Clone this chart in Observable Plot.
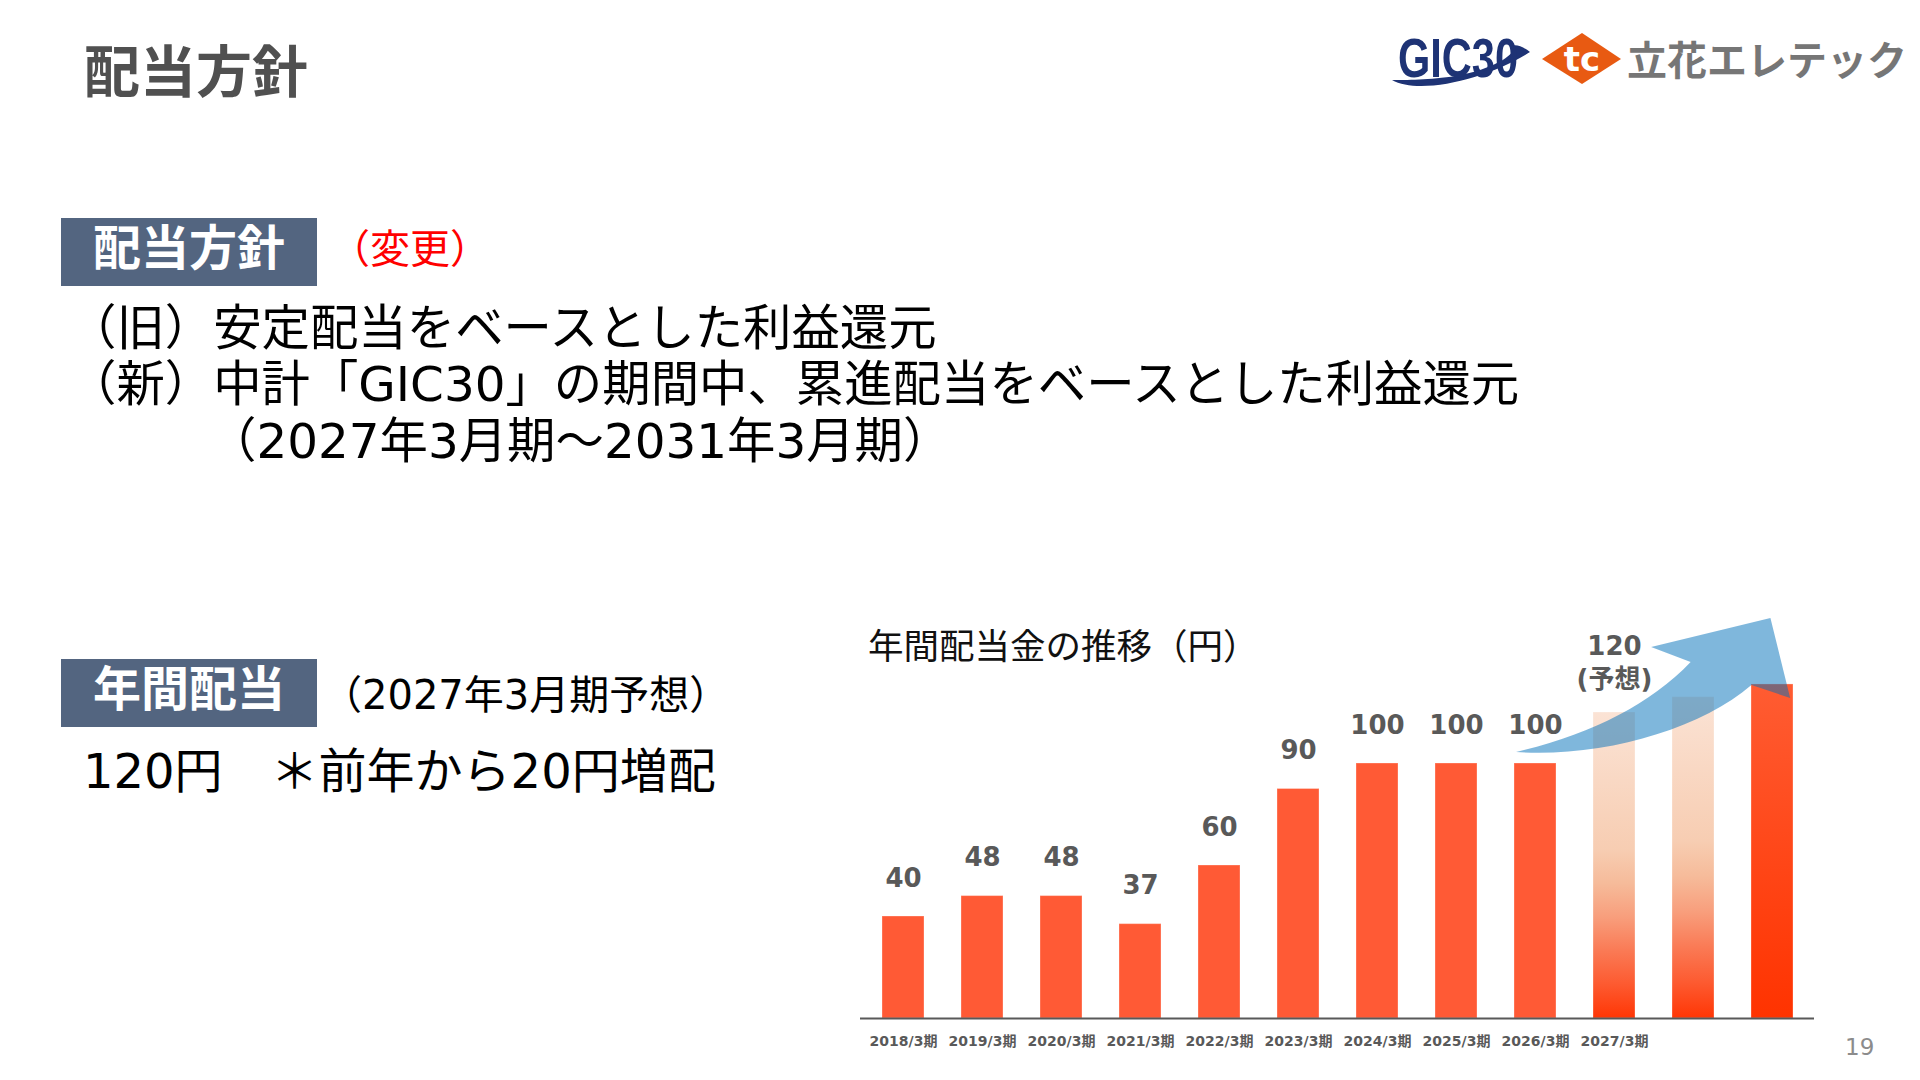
<!DOCTYPE html>
<html><head><meta charset="utf-8">
<script src="https://cdn.jsdelivr.net/npm/d3@7"></script>
<script src="https://cdn.jsdelivr.net/npm/@observablehq/plot@0.6"></script>
<style>
html,body{margin:0;padding:0;background:#fff;}
#page{position:relative;width:1920px;height:1080px;overflow:hidden;background:#fff;font-family:"Noto Sans CJK JP","Noto Sans",sans-serif;}
.t{position:absolute;white-space:nowrap;line-height:1;}
.body{font-family:"DejaVu Sans","Noto Sans CJK JP",sans-serif;}
.box{position:absolute;background:#536580;}
.boxlabel{position:absolute;color:#fff;font-weight:700;font-size:48px;line-height:1;text-align:center;white-space:nowrap;}
#chart{position:absolute;left:840px;top:600px;}
#chart g[aria-label^="x-axis"] text{font-weight:700;fill:#595959;}
</style></head>
<body><div id="page">
  <div class="t" style="left:84px;top:40px;font-size:56px;font-weight:700;color:#505050;">配当方針</div>

  <svg style="position:absolute;left:1380px;top:20px" width="540" height="90" viewBox="1380 20 540 90">
    <path d="M1392,80 C1420,96 1490,78 1530,52 C1524,47 1516,44 1512,46 C1520,50 1500,68 1456,76 C1430,80 1405,80 1392,80 Z" fill="#1e3375"/>
    <text x="1398" y="77" font-size="56" font-weight="700" font-family="Liberation Sans, Arial, sans-serif" fill="#1e3375" textLength="120" lengthAdjust="spacingAndGlyphs">GIC30</text>
    <polygon points="1542,59 1582,33 1621,59 1582,84" fill="#e85a12"/>
    <text x="1582" y="71" font-size="34" font-weight="700" font-family="DejaVu Sans, sans-serif" fill="#fff" text-anchor="middle">tc</text>
    <text x="1627" y="75" font-size="40" font-weight="700" font-family="Noto Sans CJK JP, sans-serif" fill="#767676">立花エレテック</text>
  </svg>

  <div class="box" style="left:61px;top:218px;width:256px;height:68px;"></div>
  <div class="boxlabel" style="left:61px;top:220px;width:256px;">配当方針</div>
  <div class="t" style="left:330px;top:226px;font-size:40px;color:#ff0000;">（変更）</div>

  <div class="t body" style="left:68px;top:304px;font-size:48.4px;color:#000;">（旧）安定配当をベースとした利益還元</div>
  <div class="t body" style="left:68px;top:360px;font-size:48.4px;color:#000;">（新）中計「GIC30」の期間中、累進配当をベースとした利益還元</div>
  <div class="t body" style="left:208px;top:417px;font-size:48.4px;color:#000;">（2027年3月期～2031年3月期）</div>

  <div class="box" style="left:61px;top:659px;width:256px;height:68px;"></div>
  <div class="boxlabel" style="left:61px;top:661px;width:256px;">年間配当</div>
  <div class="t body" style="left:322px;top:675px;font-size:40px;color:#000;">（2027年3月期予想）</div>
  <div class="t body" style="left:83px;top:747px;font-size:48px;color:#000;">120円　＊前年から20円増配</div>

  <div id="chart"></div>
  <div class="t" style="left:868px;top:626px;font-size:35.5px;color:#111;">年間配当金の推移（円）</div>

  <div class="t" style="left:1845px;top:1036px;font-size:23px;color:#8c8c8c;font-family:'DejaVu Sans',sans-serif;">19</div>
</div>
<script>
// ---- data ----
const periods = ["2018/3期","2019/3期","2020/3期","2021/3期","2022/3期","2023/3期","2024/3期","2025/3期","2026/3期","2027/3期","",""];
const dividends = [40, 48, 48, 37, 60, 90, 100, 100, 100, 120, 126, 131];
const valueLabels = ["40","48","48","37","60","90","100","100","100","120","",""];
const status = ["実績","実績","実績","実績","実績","実績","実績","実績","実績","予想","見通し","目標"];
const forecastNote = "(予想)";

const rows = periods.map((p, i) => ({i, period: p, value: dividends[i], label: valueLabels[i], status: status[i]}));

// growth arrow outline, in (band position, yen) units
const arrowShape = {
  tail: [7.76, 104.3],
  upper: [[8.69, 111.0], [9.45, 122.7], [9.97, 139.6]],
  head: [[9.47, 145.5], [10.98, 156.9], [11.23, 125.5], [10.74, 130.6]],
  lower: [[10.08, 112.9], [8.82, 102.0], [7.76, 104.3]]
};

const font = "'DejaVu Sans','Noto Sans CJK JP',sans-serif";
const labelStyle = {fontSize: 26, fontWeight: 700, fill: "#595959", fontFamily: font};

const chart = Plot.plot({
  width: 1000,
  height: 470,
  marginLeft: 20,
  marginRight: 26,
  marginTop: 86.5,
  marginBottom: 52,
  style: {background: "transparent", overflow: "visible", fontFamily: font, fontSize: "14px", color: "#595959"},
  x: {type: "band", domain: rows.map(d => d.i), paddingInner: 0.47, paddingOuter: 0.235, label: null,
      tickSize: 0, tickPadding: 18, tickFormat: i => periods[i]},
  y: {domain: [0, 130], axis: null},
  marks: [
    Plot.barY(rows.filter(d => d.status === "実績"), {x: "i", y: "value", fill: "#ff5a35", stroke: "white", strokeOpacity: 0.3, strokeWidth: 1}),
    Plot.barY(rows.filter(d => d.status === "予想" || d.status === "見通し"), {x: "i", y: "value", fill: "url(#fadeGrad)", stroke: "white", strokeOpacity: 0.3, strokeWidth: 1}),
    Plot.barY(rows.filter(d => d.status === "目標"), {x: "i", y: "value", fill: "url(#peakGrad)", stroke: "white", strokeOpacity: 0.3, strokeWidth: 1}),
    Plot.ruleY([0], {stroke: "#595959", strokeWidth: 2}),
    Plot.text(rows.filter(d => d.status === "実績"), {x: "i", y: "value", text: "label", dy: -38, ...labelStyle}),
    Plot.text(rows.filter(d => d.status === "予想"), {x: "i", y: "value", text: "label", dy: -66, ...labelStyle}),
    Plot.text(rows.filter(d => d.status === "予想"), {x: "i", y: "value", text: () => forecastNote, dy: -33, ...labelStyle})
  ]
});
document.getElementById("chart").appendChild(chart);

// gradients
const svg = d3.select(chart);
const defs = svg.insert("defs", ":first-child");
const fade = defs.append("linearGradient").attr("id", "fadeGrad").attr("x1", 0).attr("y1", 0).attr("x2", 0).attr("y2", 1);
[[0, "#fbe3d5"], [0.45, "#f7cdb2"], [0.56, "#f6bb9a"], [0.67, "#f89e7c"], [0.78, "#fa7a55"], [0.89, "#fd5a30"], [1, "#ff3605"]]
  .forEach(([o, c]) => fade.append("stop").attr("offset", o).attr("stop-color", c));
const peak = defs.append("linearGradient").attr("id", "peakGrad").attr("x1", 0).attr("y1", 0).attr("x2", 0).attr("y2", 1);
[[0, "#ff5c32"], [1, "#ff3300"]].forEach(([o, c]) => peak.append("stop").attr("offset", o).attr("stop-color", c));

// growth arrow drawn through the chart's scales
const sx = chart.scale("x"), sy = chart.scale("y");
const x0 = sx.apply(0) + sx.bandwidth / 2;
const P = ([b, v]) => `${x0 + b * sx.step},${sy.apply(v)}`;
const a = arrowShape;
const d = `M${P(a.tail)} C${a.upper.map(P).join(" ")} L${a.head.map(P).join(" L")} C${a.lower.map(P).join(" ")} Z`;
svg.append("path").attr("d", d).attr("fill", "rgb(0,111,185)").attr("fill-opacity", 0.5);
</script>
</body></html>
